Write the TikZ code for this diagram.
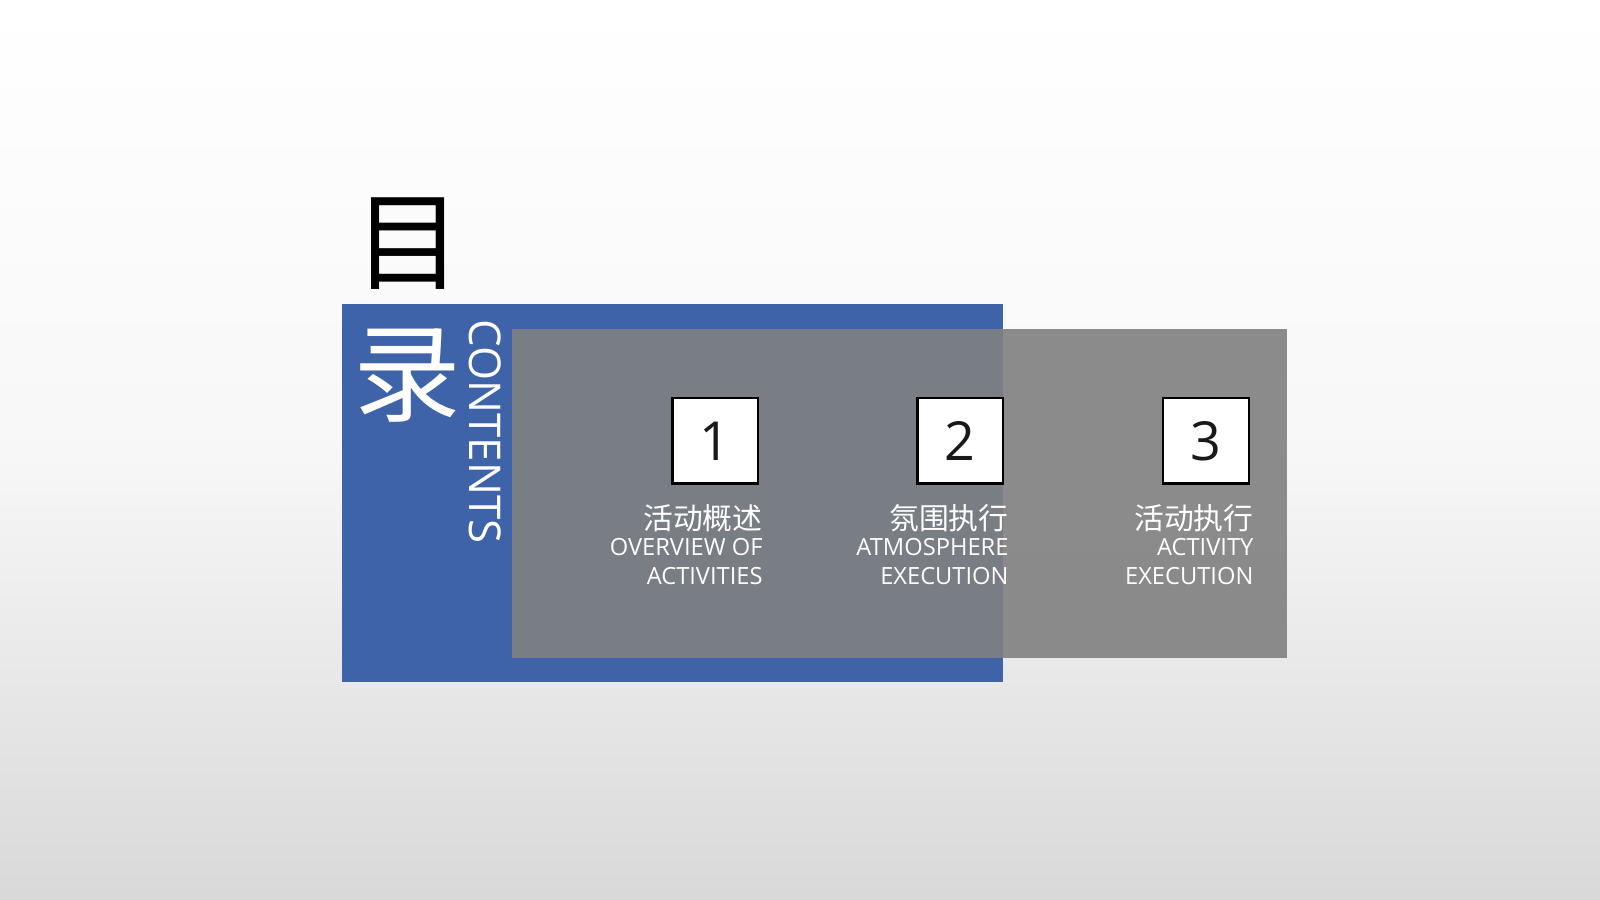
\documentclass[tikz,border=0pt]{standalone}
\usepackage{fontspec}
\setmainfont{Open Sans}
\newfontfamily\cjk{Noto Sans CJK SC}
\definecolor{blu}{RGB}{63,99,169}
\begin{document}
\begin{tikzpicture}[x=0.01cm,y=-0.01cm,
  num/.style={draw=black,line width=0.7pt,fill=white,minimum size=0.84cm,inner sep=0pt,font=\fontsize{15}{15}\selectfont,text=black!90},
  zh/.style={anchor=north east,text=white,font=\cjk\fontsize{8.3}{10}\selectfont,inner sep=0pt},
  en/.style={anchor=north east,text=white,align=right,font=\fontsize{6.6}{8}\selectfont,inner sep=0pt}]
\useasboundingbox (0,0) rectangle (1568,882);
\shade[top color=white,bottom color=black!15,middle color=black!3] (0,0) rectangle (1568,882);
\fill[blu] (335,298) rectangle (983,668);
\fill[gray,opacity=0.9] (502,322) rectangle (1261,645);
\node[inner sep=0pt,font=\cjk\fontsize{30}{30}\selectfont] (mu) at (400,239) {目};
\node[inner sep=0pt,text=white,font=\cjk\fontsize{30}{30}\selectfont] (lu) at (399,368) {录};
\node[inner sep=0pt,text=white,rotate=-90,font=\fontsize{12.2}{12}\selectfont] (ct) at (475,423) {CONTENTS};
\node[num] (n1) at (701,432) {1};
\node[num] (n2) at (941,432) {2};
\node[num] (n3) at (1182,432) {3};
\node[zh] (z1) at (748,494) {活动概述};
\node[en] (e1) at (748,527) {OVERVIEW OF\\ACTIVITIES};
\node[zh] (z2) at (989,494) {氛围执行};
\node[en] (e2) at (989,527) {ATMOSPHERE\\EXECUTION};
\node[zh] (z3) at (1229,494) {活动执行};
\node[en] (e3) at (1229,527) {ACTIVITY\\EXECUTION};
\end{tikzpicture}
\end{document}
